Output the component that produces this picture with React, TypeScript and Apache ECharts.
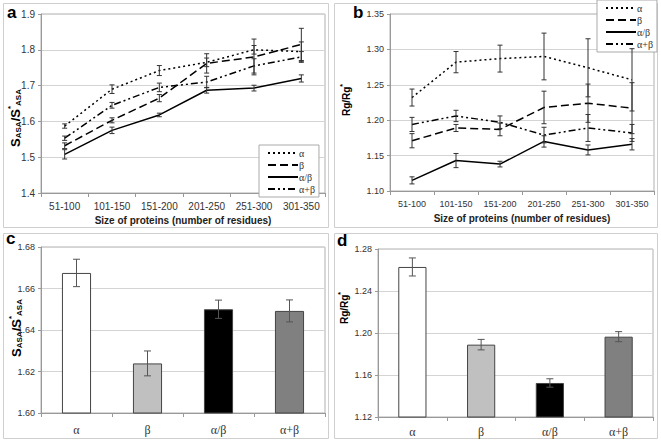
import React, { useEffect, useRef } from "react";
import * as echarts from "echarts";

const sizeCats = ["51-100", "101-150", "151-200", "201-250", "251-300", "301-350"];
const classNames = ["α", "β", "α/β", "α+β"];

// Panel a: S_ASA / S*_ASA by size
const aAlpha = [1.587, 1.69, 1.742, 1.765, 1.8, 1.795];
const aAlphaErr = [0.006, 0.012, 0.014, 0.012, 0.012, 0.027];
const aBeta = [1.532, 1.603, 1.665, 1.762, 1.78, 1.815];
const aBetaErr = [0.008, 0.007, 0.01, 0.027, 0.05, 0.045];
const aAB = [1.508, 1.575, 1.618, 1.687, 1.693, 1.72];
const aABErr = [0.013, 0.009, 0.005, 0.008, 0.008, 0.01];
const aApB = [1.553, 1.645, 1.695, 1.71, 1.755, 1.78];
const aApBErr = [0.006, 0.008, 0.012, 0.016, 0.02, 0.015];

// Panel b: Rg / Rg* by size
const bAlpha = [1.232, 1.282, 1.287, 1.29, 1.274, 1.257];
const bAlphaErr = [0.012, 0.015, 0.019, 0.033, 0.041, 0.044];
const bBeta = [1.171, 1.189, 1.187, 1.218, 1.224, 1.217];
const bBetaErr = [0.01, 0.005, 0.009, 0.023, 0.027, 0.036];
const bAB = [1.115, 1.143, 1.138, 1.17, 1.158, 1.166];
const bABErr = [0.005, 0.01, 0.004, 0.008, 0.007, 0.008];
const bApB = [1.194, 1.206, 1.197, 1.179, 1.189, 1.182];
const bApBErr = [0.01, 0.008, 0.009, 0.011, 0.019, 0.012];

// Panel c: S_ASA / S*_ASA by class
const cValues = [1.6675, 1.6239, 1.65, 1.6492];
const cErr = [0.0066, 0.006, 0.0044, 0.0053];

// Panel d: Rg / Rg* by class
const dValues = [1.2629, 1.1889, 1.1524, 1.1965];
const dErr = [0.0086, 0.005, 0.004, 0.0048];

const barColors = ["#ffffff", "#c0c0c0", "#000000", "#808080"];
const dashes: any[] = [[2, 3], [8, 4], "solid", [7, 3, 2, 3, 2, 3]];

const SANS = "'Liberation Sans', Arial, sans-serif";
const SERIF = "'Liberation Serif', 'Times New Roman', serif";

function errRender(half: number, color: string) {
  return (params: any, api: any) => {
    const x = api.value(0);
    const lo = api.coord([x, api.value(1)]);
    const hi = api.coord([x, api.value(2)]);
    const style = { stroke: color, lineWidth: 1 };
    return {
      type: "group",
      children: [
        { type: "line", shape: { x1: lo[0], y1: lo[1], x2: hi[0], y2: hi[1] }, style },
        { type: "line", shape: { x1: lo[0] - half, y1: lo[1], x2: lo[0] + half, y2: lo[1] }, style },
        { type: "line", shape: { x1: hi[0] - half, y1: hi[1], x2: hi[0] + half, y2: hi[1] }, style },
      ],
    };
  };
}

function errData(vals: number[], errs: number[]) {
  return vals.map((v, i) => [i, v - errs[i], v + errs[i]]);
}

export default function App() {
  const ref = useRef<HTMLDivElement>(null);
  useEffect(() => {
    document.body.style.margin = "0";
    const chart = echarts.init(ref.current!, null, { renderer: "svg" });

    const catAxis = (gridIndex: number, data: string[], margin: number, name: string, labelFont: string, labelSize: number) => ({
      type: "category",
      gridIndex,
      data,
      boundaryGap: true,
      name,
      nameLocation: "middle",
      nameGap: 22,
      nameTextStyle: { fontFamily: SANS, fontSize: 10, fontWeight: "bold", color: "#222" },
      axisLine: { lineStyle: { color: "#999" } },
      axisTick: { show: true, length: 4, lineStyle: { color: "#999" } },
      axisLabel: { interval: 0, margin, fontFamily: labelFont, fontSize: labelSize, color: "#333" },
    });

    const valAxis = (gridIndex: number, min: number, max: number, interval: number, digits: number, fontSize: number) => ({
      type: "value",
      gridIndex,
      min,
      max,
      interval,
      axisLine: { show: true, lineStyle: { color: "#999" } },
      axisTick: { show: true, length: 3, lineStyle: { color: "#999" } },
      splitLine: { lineStyle: { color: "#d4d4d4" } },
      axisLabel: {
        fontFamily: SANS,
        fontSize,
        color: "#333",
        margin: 6,
        formatter: (v: number) => v.toFixed(digits),
      },
    });

    const aSets = [
      [aAlpha, aAlphaErr],
      [aBeta, aBetaErr],
      [aAB, aABErr],
      [aApB, aApBErr],
    ];
    const bSets = [
      [bAlpha, bAlphaErr],
      [bBeta, bBetaErr],
      [bAB, bABErr],
      [bApB, bApBErr],
    ];

    const series: any[] = [];
    [aSets, bSets].forEach((sets, gi) => {
      sets.forEach(([vals, errs], k) => {
        series.push({
          type: "line",
          name: classNames[k],
          xAxisIndex: gi,
          yAxisIndex: gi,
          data: vals,
          symbol: "none",
          color: "#000",
          itemStyle: { color: "#000" },
          lineStyle: { color: "#000", width: 1.5, type: dashes[k] },
          z: 3,
        });
        series.push({
          type: "custom",
          name: "err" + gi + "_" + k,
          xAxisIndex: gi,
          yAxisIndex: gi,
          data: errData(vals as number[], errs as number[]),
          encode: { x: 0, y: [1, 2] },
          renderItem: errRender(2.5, "#333"),
          z: 4,
        });
      });
    });

    [
      [cValues, cErr],
      [dValues, dErr],
    ].forEach(([vals, errs], j) => {
      const gi = j + 2;
      series.push({
        type: "bar",
        name: "bars" + gi,
        xAxisIndex: gi,
        yAxisIndex: gi,
        barWidth: "41%",
        data: (vals as number[]).map((v, i) => ({
          value: v,
          itemStyle: { color: barColors[i], borderColor: "#444", borderWidth: 1 },
        })),
        z: 2,
      });
      series.push({
        type: "custom",
        name: "barerr" + gi,
        xAxisIndex: gi,
        yAxisIndex: gi,
        data: errData(vals as number[], errs as number[]),
        encode: { x: 0, y: [1, 2] },
        renderItem: errRender(3.5, "#555"),
        z: 4,
      });
    });

    const legendCommon = {
      orient: "vertical",
      data: classNames,
      itemWidth: 30,
      itemHeight: 8,
      itemGap: 2,
      backgroundColor: "#fff",
      borderColor: "#aaa",
      borderWidth: 1,
      padding: [3, 4, 3, 8],
      itemStyle: { opacity: 0 },
      textStyle: { fontFamily: SERIF, fontSize: 10, color: "#333", padding: [0, 0, 0, -4] },
      selectedMode: false,
    };

    const frameStyle = { fill: "none", stroke: "#cfcfcf", lineWidth: 1 };
    const letterStyle = (t: string) => ({ text: t, fontFamily: SANS, fontSize: 17, fontWeight: "bold", fill: "#000" });
    const asaTitle = {
      text: "{m|S}{s|ASA}{m|/S}{p|*}{s|ASA}",
      rich: {
        m: { fontFamily: SANS, fontSize: 13, fontWeight: "bold", fill: "#000", lineHeight: 16, verticalAlign: "bottom" },
        s: { fontFamily: SANS, fontSize: 8, fontWeight: "bold", fill: "#000", lineHeight: 16, verticalAlign: "bottom" },
        p: { fontFamily: SANS, fontSize: 8, fontWeight: "bold", fill: "#000", lineHeight: 16, verticalAlign: "top" },
      },
      align: "center",
      verticalAlign: "middle",
    };
    const rgTitle = {
      text: "{m|Rg/Rg}{p|*}",
      rich: {
        m: { fontFamily: SANS, fontSize: 10, fontWeight: "bold", fill: "#000", lineHeight: 12, verticalAlign: "bottom" },
        p: { fontFamily: SANS, fontSize: 7, fontWeight: "bold", fill: "#000", lineHeight: 12, verticalAlign: "top" },
      },
      align: "center",
      verticalAlign: "middle",
    };

    chart.setOption({
      animation: false,
      backgroundColor: "#fff",
      grid: [
        { left: 41, top: 14, width: 284, height: 179, show: true, borderColor: "#b0b0b0", borderWidth: 1 },
        { left: 390, top: 14, width: 264, height: 177, show: true, borderColor: "#b0b0b0", borderWidth: 1 },
        { left: 41, top: 247, width: 284, height: 166, show: true, borderColor: "#b0b0b0", borderWidth: 1 },
        { left: 378, top: 249, width: 275, height: 168, show: true, borderColor: "#b0b0b0", borderWidth: 1 },
      ],
      xAxis: [
        catAxis(0, sizeCats, 8, "Size of proteins (number of residues)", SANS, 10),
        catAxis(1, sizeCats, 8, "Size of proteins (number of residues)", SANS, 9),
        catAxis(2, classNames, 11, "", SERIF, 12),
        catAxis(3, classNames, 9, "", SERIF, 12),
      ],
      yAxis: [
        valAxis(0, 1.4, 1.9, 0.1, 1, 10),
        valAxis(1, 1.1, 1.35, 0.05, 2, 9),
        valAxis(2, 1.6, 1.68, 0.02, 2, 9),
        valAxis(3, 1.12, 1.28, 0.04, 2, 9),
      ],
      legend: [
        { ...legendCommon, left: 259, top: 145 },
        { ...legendCommon, left: 597, top: 0 },
      ],
      graphic: [
        { type: "rect", shape: { x: 3.5, y: 3.5, width: 325, height: 224 }, style: frameStyle, z: -1 },
        { type: "rect", shape: { x: 334.5, y: 3.5, width: 323, height: 224 }, style: frameStyle, z: -1 },
        { type: "rect", shape: { x: 3.5, y: 233.5, width: 325, height: 205 }, style: frameStyle, z: -1 },
        { type: "rect", shape: { x: 334.5, y: 233.5, width: 323, height: 205 }, style: frameStyle, z: -1 },
        { type: "text", x: 7, y: 4, style: letterStyle("a") },
        { type: "text", x: 353, y: 4, style: letterStyle("b") },
        { type: "text", x: 6, y: 230, style: letterStyle("c") },
        { type: "text", x: 337, y: 232, style: letterStyle("d") },
        { type: "text", x: 14, y: 118, rotation: Math.PI / 2, style: asaTitle },
        { type: "text", x: 345, y: 100, rotation: Math.PI / 2, style: rgTitle },
        { type: "text", x: 15, y: 328, rotation: Math.PI / 2, style: asaTitle },
        { type: "text", x: 343, y: 308, rotation: Math.PI / 2, style: rgTitle },
      ],
      series,
    });
    return () => chart.dispose();
  }, []);
  return <div ref={ref} style={{ width: 661, height: 442 }} />;
}
